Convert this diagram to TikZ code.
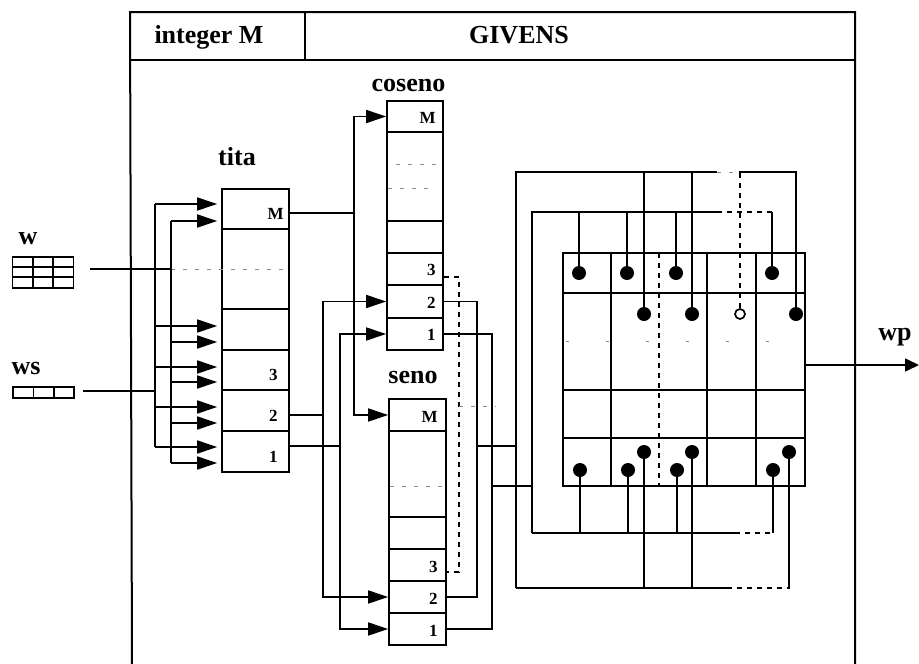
\documentclass[tikz,border=0pt]{standalone}
\usepackage{fontspec}
\setmainfont{Liberation Serif}
\usetikzlibrary{arrows.meta, positioning, calc}
\definecolor{faintDash}{HTML}{8A8A8A}
\tikzset{
  wire/.style={line width=1.7pt, black},
  arrow/.style={wire, -{Triangle[length=20pt,width=13pt]}},
  wparrow/.style={wire, -{Triangle[length=14pt,width=13pt]}},
  faint/.style={line width=0.8pt, faintDash, dash pattern=on 4pt off 8pt},
  sparse/.style={line width=0.8pt, faintDash, dash pattern=on 3pt off 37pt},
  hidden/.style={line width=1.3pt, black, dash pattern=on 5pt off 5pt},
  cell/.style={draw, line width=1.7pt, inner sep=0pt},
  dot/.style={circle, fill=black, minimum width=14pt, minimum height=13pt, inner sep=0pt},
  opendot/.style={circle, draw, line width=1.7pt, fill=white, minimum size=10pt, inner sep=0pt},
  title/.style={font=\fontsize{26}{28}\selectfont\bfseries, anchor=base, inner sep=0pt},
  num/.style={font=\fontsize{17}{19}\selectfont\bfseries, anchor=east, inner sep=0pt}
}

\begin{document}
\begin{tikzpicture}[x=1pt, y=-1pt]
  \useasboundingbox (0,0) rectangle (919,664);
  \draw[wire, line width=2pt] (132,664)--(130,12)--(855,12)--(855,664);
  \draw[wire, line width=2pt] (130,60)--(855,60);
  \draw[wire, line width=2pt] (305,12)--(305,60);
  \node[title] (intM) at (209,43) {integer M};
  \node[title] (givens) at (519,43) {GIVENS};
  \node[title] (wlabel) at (28,244) {w};
  \node[title] (wslabel) at (26,374) {ws};
  \node[title] (titalabel) at (237,165) {tita};
  \node[title] (coslabel) at (408.5,91) {coseno};
  \node[title] (senlabel) at (413,383) {seno};
  \node[title] (wplabel) at (895,340) {wp};

  \node[cell, minimum width=61pt, minimum height=31pt] (w) at (43,272.5) {};
  \draw[wire] (33,257)--(33,288) (53,257)--(53,288) (12.5,267)--(73.5,267) (12.5,277)--(73.5,277);
  \node[cell, minimum width=61pt, minimum height=11pt] (ws) at (43.5,392.5) {};
  \draw[wire] (33.5,387)--(33.5,398) (54,387)--(54,398);

  \foreach \nm/\ya/\yb in {titaM/189/229, titaG/229/309, titaE/309/350, tita3/350/390, tita2/390/431, tita1/431/472}
    \node[cell, minimum width=67pt, minimum height={(\yb-\ya)*1pt}] (\nm) at (255.5,{(\ya+\yb)/2}) {};
  \foreach \nm/\ya/\yb in {cosM/101/132, cosG/132/221, cosE/221/253, cos3/253/285, cos2/285/318, cos1/318/350}
    \node[cell, minimum width=56pt, minimum height={(\yb-\ya)*1pt}] (\nm) at (415,{(\ya+\yb)/2}) {};
  \foreach \nm/\ya/\yb in {senM/399/431, senG/431/517, senE/517/549, sen3/549/581, sen2/581/613, sen1/613/645}
    \node[cell, minimum width=57pt, minimum height={(\yb-\ya)*1pt}] (\nm) at (417.5,{(\ya+\yb)/2}) {};

  \node[num] (ltitaM) at ($(titaM.east)+(-6,5)$) {M};
  \foreach \nm/\txt in {tita3/3, tita2/2, tita1/1}
    \node[num] (l\nm) at ($(\nm.east)+(-12,5)$) {\txt};
  \foreach \nm/\txt in {cosM/M, cos3/3, cos2/2, cos1/1}
    \node[num] (l\nm) at ($(\nm.east)+(-8,1)$) {\txt};
  \foreach \nm/\txt in {senM/M, sen3/3, sen2/2, sen1/1}
    \node[num] (l\nm) at ($(\nm.east)+(-9,1.5)$) {\txt};

  \draw[faint] (396,164)--(443,164) (388,188)--(436,188);
  \draw[faint] (390,486)--(446,486);

  \coordinate (wstart) at (90,269);
  \coordinate (wsstart) at (83,391);
  \coordinate (busw) at (171,269);
  \coordinate (busws) at (155,391);
  \draw[wire] (wstart) -- (busw);
  \draw[wire] (wsstart) -- (busws);
  \draw[faint] (busw) -- (titaG.east);
  \draw[wire] (155,204)--(155,447);
  \draw[wire] (171,221)--(171,463);
  \foreach \nm/\ya/\yb in {titaM/204/221, titaE/326/342, tita3/367/382, tita2/407/423, tita1/447/463}{
    \draw[arrow, shorten >=4pt] (busws |- 0,\ya) -- (\nm.west |- 0,\ya);
    \draw[arrow, shorten >=4pt] (busw |- 0,\yb) -- (\nm.west |- 0,\yb);
  }

  \coordinate (busM) at (354,213);
  \coordinate (busT) at (323,415);
  \coordinate (busO) at (340,446);
  \draw[wire] (titaM.east |- busM) -- (busM);
  \draw[wire] (tita2.east |- busT) -- (busT);
  \draw[wire] (tita1.east |- busO) -- (busO);
  \draw[arrow] (busM) |- (cosM.west);
  \draw[arrow] (busM) |- (senM.west);
  \draw[arrow] (busT) |- (cos2.west);
  \draw[arrow] (busT) |- (sen2.west);
  \draw[arrow] (busO) |- (cos1.west);
  \draw[arrow] (busO) |- (sen1.west);

  \coordinate (busC) at (477,446);
  \coordinate (busS) at (492,486);
  \coordinate (busD) at (459,406);
  \draw[wire] (cos2.east) -| (busC) |- (sen2.east);
  \draw[wire] (cos1.east) -| (busS) |- (sen1.east);
  \draw[hidden] (cos3.east |- 0,277) -| (busD) |- (sen3.east |- 0,572);
  \draw[faint] (busD) -- (496,406);

  \node[cell, minimum width=242pt, minimum height=233pt] (grid) at (684,369.5) {};
  \foreach \x in {611,707,756}
    \draw[wire] (\x,253)--(\x,486);
  \foreach \y in {293,390,438}
    \draw[wire] (563,\y)--(805,\y);
  \draw[hidden] (659,253)--(659,486);
  \draw[sparse] (566,341)--(805,341);

  \coordinate (loopA) at (516,446);
  \coordinate (loopB) at (532,486);
  \coordinate (topA) at (516,172);
  \coordinate (botA) at (516,588);
  \coordinate (topB) at (532,212);
  \coordinate (botB) at (532,533);
  \draw[wire] (busC) -- (loopA);
  \draw[wire] (busS) -- (loopB);
  \draw[wire] (botA) -- (topA) -- (717,172);
  \draw[faint] (717,172)--(739,172);
  \draw[wire] (botB) -- (topB) -- (717,212);
  \draw[hidden] (717,212)--(772,212);
  \draw[wire] (botB) -- (735,533);
  \draw[hidden] (735,533)--(774,533);
  \draw[wire] (botA) -- (727,588);
  \draw[hidden] (727,588)--(790,588);

  \foreach \nm/\x in {tA/579, tB/627, tC/676, tD/772}{
    \node[dot] (\nm) at (\x,273) {};
    \draw[wire] (\nm) -- (\nm |- topB);
  }
  \foreach \nm/\x in {rA/644, rB/692}{
    \node[dot] (\nm) at (\x,314) {};
    \draw[wire] (\nm) -- (\nm |- topA);
  }
  \node[dot] (rD) at (796,314) {};
  \draw[wire] (rD) |- (739,172);
  \node[opendot] (rC) at (740,314) {};
  \draw[hidden] (rC) -- (rC |- topA);
  \foreach \nm/\x in {bA/580, bB/628, bC/677, bD/773}{
    \node[dot] (\nm) at (\x,470) {};
    \draw[wire] (\nm) -- (\nm |- botB);
  }
  \foreach \nm/\x in {cA/644, cB/692, cC/789}{
    \node[dot] (\nm) at (\x,452) {};
    \draw[wire] (\nm) -- (\nm |- botA);
  }

  \coordinate (wpend) at (919,365);
  \draw[wparrow] (grid.east |- wpend) -- (wpend);
\end{tikzpicture}
\end{document}
